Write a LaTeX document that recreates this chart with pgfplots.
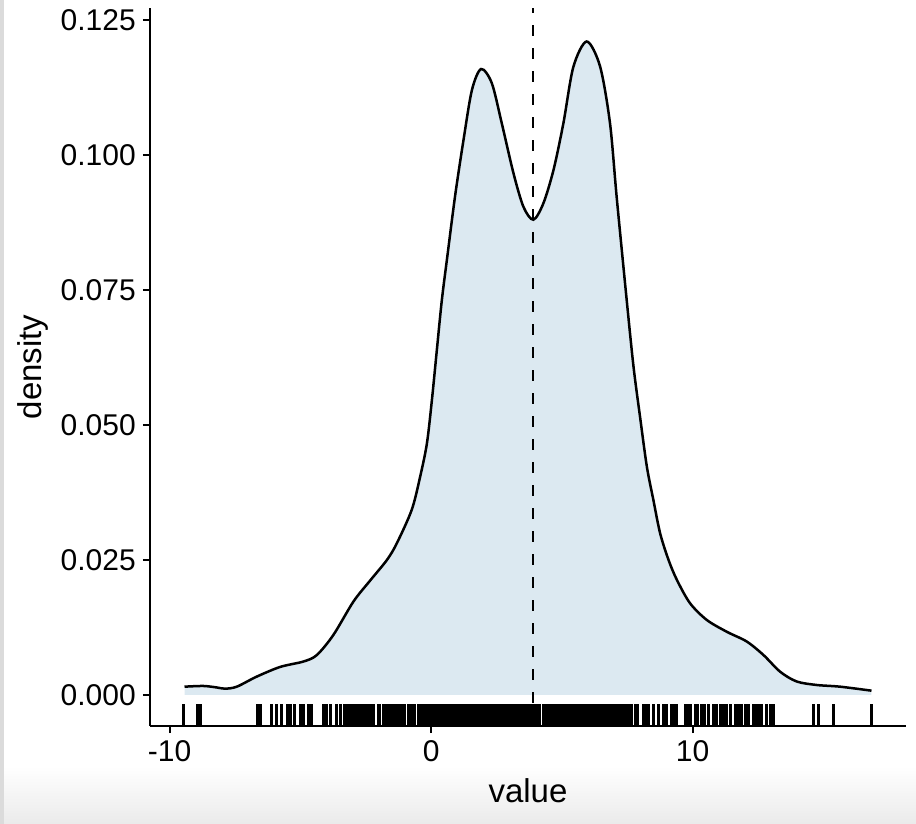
\documentclass[border=0pt]{standalone}
\usepackage{fontspec}
\setmainfont{Liberation Sans}
\usepackage{pgfplots}
\usepackage{pgfplotstable}
\pgfplotsset{compat=1.18}
\usetikzlibrary{calc}
\pgfdeclarelayer{background}
\pgfsetlayers{background,main}
\definecolor{densfill}{RGB}{220,233,241}
\newcommand{\tT}{\fontsize{15}{17}\selectfont}
\newcommand{\tL}{\fontsize{16.5}{19}\selectfont}

% density estimate
\pgfplotstableread{
x y
-9.43 0.00154
-8.71 0.00167
-8.20 0.00140
-7.88 0.00117
-7.43 0.00154
-6.67 0.00340
-5.77 0.00520
-4.88 0.00620
-4.37 0.00740
-3.74 0.01110
-2.97 0.01730
-2.33 0.02120
-1.69 0.02500
-1.31 0.02810
-0.74 0.03430
-0.42 0.04040
-0.16 0.04660
0.03 0.05460
0.22 0.06390
0.41 0.07310
0.62 0.08120
0.92 0.09250
1.24 0.10280
1.56 0.11200
1.91 0.11590
2.32 0.11330
2.70 0.10590
3.15 0.09660
3.53 0.09040
3.91 0.08800
4.29 0.09100
4.68 0.09720
5.06 0.10590
5.44 0.11630
5.95 0.12100
6.46 0.11640
6.84 0.10590
7.10 0.09200
7.48 0.07310
7.74 0.06080
7.99 0.05150
8.25 0.04230
8.50 0.03610
8.76 0.02990
9.08 0.02500
9.40 0.02130
9.90 0.01700
10.54 0.01390
11.31 0.01170
12.07 0.00990
12.71 0.00740
13.35 0.00430
13.98 0.00250
14.75 0.00185
15.64 0.00154
16.84 0.00080
}\dens

% rug positions (observations), one per row
\pgfplotstableread{
x
-9.47
-8.94
-8.80
-6.64
-6.54
-6.09
-5.90
-5.71
-5.49
-5.39
-5.23
-4.98
-4.88
-4.67
-4.57
-4.12
-3.99
-3.84
-3.61
-3.48
-3.30
-3.20
-3.12
-3.03
-2.95
-2.86
-2.78
-2.69
-2.61
-2.52
-2.44
-2.35
-2.27
-2.19
-2.02
-1.96
-1.82
-1.74
-1.66
-1.58
-1.50
-1.42
-1.36
-1.24
-1.16
-1.08
-1.00
-0.86
-0.78
-0.70
-0.62
-0.48
-0.40
-0.32
-0.24
-0.16
-0.08
0.00
0.08
0.16
0.24
0.32
0.40
0.48
0.56
0.64
0.72
0.80
0.88
0.96
1.04
1.12
1.20
1.28
1.36
1.44
1.52
1.60
1.68
1.76
1.84
1.92
2.00
2.08
2.16
2.24
2.32
2.40
2.48
2.56
2.64
2.72
2.80
2.88
2.96
3.04
3.12
3.20
3.28
3.36
3.44
3.52
3.60
3.68
3.76
3.84
3.92
4.00
4.08
4.16
4.30
4.38
4.46
4.54
4.62
4.70
4.78
4.86
4.94
5.02
5.10
5.18
5.26
5.34
5.42
5.50
5.58
5.66
5.74
5.82
5.90
5.98
6.06
6.14
6.22
6.30
6.38
6.46
6.54
6.62
6.70
6.78
6.86
6.94
7.02
7.10
7.18
7.26
7.34
7.42
7.50
7.58
7.66
7.80
7.88
8.12
8.20
8.31
8.50
8.69
8.88
9.01
9.20
9.30
9.40
9.71
9.82
9.93
10.10
10.20
10.35
10.45
10.60
10.80
10.93
11.05
11.18
11.30
11.43
11.63
11.75
11.88
12.01
12.13
12.33
12.46
12.55
12.65
12.84
12.96
13.09
14.62
14.81
15.38
16.85
}\rug
% rug ticks sit at the foot of the panel
\pgfplotstablecreatecol[expr={-0.00374}]{y}{\rug}

\begin{document}
\begin{tikzpicture}
\begin{axis}[
  name=ax,
  scale only axis,
  width=378pt, height=359pt,
  xmin=-10.75, xmax=18.16, ymin=-0.00574, ymax=0.1272,
  axis lines=left,
  axis line style={-, line width=1.1pt, black},
  tick align=outside,
  major tick length=3.6pt,
  tick style={line width=1.1pt, black},
  xtick={-10,0,10}, xticklabels={-10,0,10},
  ytick={0,0.025,0.05,0.075,0.1,0.125},
  yticklabels={0.000,0.025,0.050,0.075,0.100,0.125},
  tick label style={font=\tT, black},
  xlabel={value}, ylabel={density},
  every axis x label/.style={at={(axis description cs:0.5,-0.1072)}, anchor=base, font=\tL},
  every axis y label/.style={at={(axis description cs:-0.1429,0.5)}, anchor=base, rotate=90, font=\tL},
]
% ---------- density area and outline ----------
\addplot[fill=densfill, draw=none, smooth, forget plot] table[x=x, y=y] {\dens} \closedcycle;
\addplot[black, line width=1.25pt, smooth] table[x=x, y=y] {\dens};
% ---------- mean line ----------
\addplot[black, line width=1.1pt, dash pattern=on 5.5pt off 6pt]
  coordinates {(3.90,-0.00574) (3.90,0.1272)};
% ---------- rug ----------
\addplot[only marks, mark=|, mark size=5.4pt, black,
  mark options={line width=1.5pt}] table[x=x, y=y] {\rug};
\end{axis}
\begin{pgfonlayer}{background}
  \shade[top color=white, bottom color=black!8]
    ([shift={(-75pt,-49pt)}]ax.south west) rectangle ([shift={(383pt,-20pt)}]ax.south west);
  \fill[black!14] ([shift={(-75pt,-49pt)}]ax.south west) rectangle ([shift={(-73pt,363pt)}]ax.south west);
\end{pgfonlayer}
\pgfresetboundingbox
\path[use as bounding box] ([shift={(-75pt,-49pt)}]ax.south west) rectangle ([shift={(383pt,363pt)}]ax.south west);
\end{tikzpicture}
\end{document}
